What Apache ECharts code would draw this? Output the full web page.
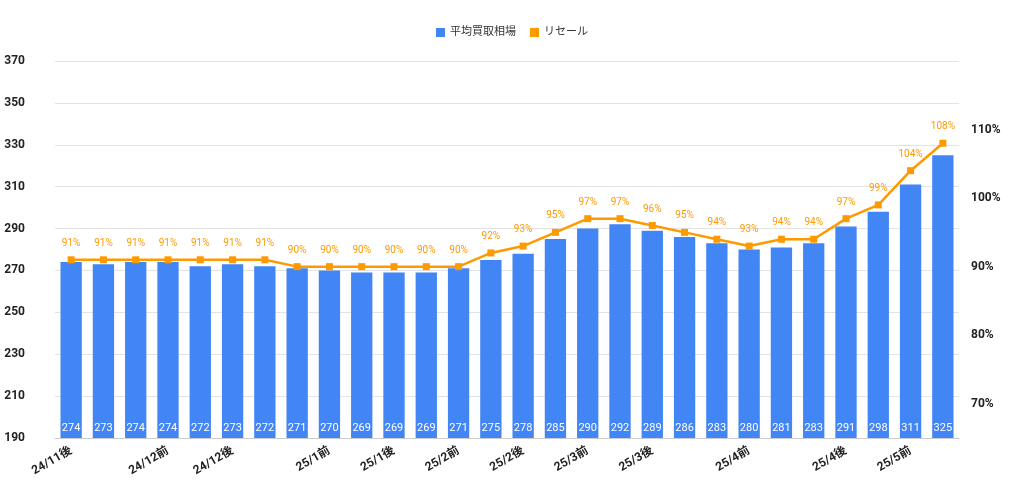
<!DOCTYPE html>
<html>
<head>
<meta charset="utf-8">
<script src="https://cdn.jsdelivr.net/npm/echarts@6/dist/echarts.min.js"></script>
<style>html,body{margin:0;background:#fff}#c{width:1024px;height:496px}</style>
</head>
<body>
<div id="c"></div>
<script>
var categories = ['24/11後','24/11後②','24/12前①','24/12前','24/12前③','24/12後','24/12後②','24/12後③','25/1前','25/1前②','25/1後','25/1後②','25/2前','25/2前②','25/2後','25/2後②','25/3前','25/3前②','25/3後','25/3後②','25/4前①','25/4前','25/4前③','25/4後①','25/4後','25/4後③','25/5前','25/5前②'];
var shownIdx = [0, 3, 5, 8, 10, 12, 14, 16, 18, 21, 24, 26];
var shownText = ['24/11後','24/12前','24/12後','25/1前','25/1後','25/2前','25/2後','25/3前','25/3後','25/4前','25/4後','25/5前'];
var buyPrice = [274,273,274,274,272,273,272,271,270,269,269,269,271,275,278,285,290,292,289,286,283,280,281,283,291,298,311,325];
var resale = [91,91,91,91,91,91,91,90,90,90,90,90,90,92,93,95,97,97,96,95,94,93,94,94,97,99,104,108];

var chart = echarts.init(document.getElementById('c'));
chart.setOption({
  animation: false,
  textStyle: {fontFamily: 'Roboto, "Noto Sans CJK JP", sans-serif'},
  legend: {
    top: 22, left: 'center', itemWidth: 9, itemHeight: 9, itemGap: 14,
    textStyle: {fontSize: 11, color: '#333'},
    data: [{name: '平均買取相場', icon: 'rect'}, {name: 'リセール', icon: 'rect'}]
  },
  grid: {left: 55, right: 65, top: 61, bottom: 58},
  xAxis: {
    type: 'category', data: categories,
    axisTick: {show: false},
    axisLine: {lineStyle: {color: '#ccc'}},
    axisLabel: {
      rotate: 30, fontSize: 12, color: '#222', fontWeight: 'bold', margin: 12,
      interval: function (i) { return shownIdx.indexOf(i) >= 0; },
      formatter: function (v, i) { var k = shownIdx.indexOf(i); return k >= 0 ? shownText[k] : ''; }
    }
  },
  yAxis: [{
    type: 'value', min: 190, max: 370, interval: 20,
    axisLabel: {color: '#222', fontSize: 12, fontWeight: 'bold', margin: 30},
    splitLine: {lineStyle: {color: '#e3e3e3'}}
  }, {
    type: 'value', min: 65, max: 120, interval: 5, position: 'right',
    splitLine: {show: false},
    axisLabel: {color: '#222', fontSize: 12, fontWeight: 'bold', margin: 12,
      formatter: function (v) { return (v % 10 === 0 && v <= 110) ? v + '%' : ''; }}
  }],
  series: [{
    name: '平均買取相場', type: 'bar', data: buyPrice, barWidth: '66%',
    itemStyle: {color: '#4285f4'},
    label: {show: true, position: 'insideBottom', color: '#fff', fontSize: 11, distance: 4}
  }, {
    name: 'リセール', type: 'line', yAxisIndex: 1, data: resale,
    symbol: 'rect', symbolSize: 7,
    lineStyle: {color: '#ff9900', width: 2.5}, itemStyle: {color: '#ff9900'},
    label: {show: true, position: 'top', color: '#ff9900', fontSize: 10, distance: 8,
      formatter: function (p) { return p.value + '%'; }}
  }]
});
</script>
</body>
</html>
